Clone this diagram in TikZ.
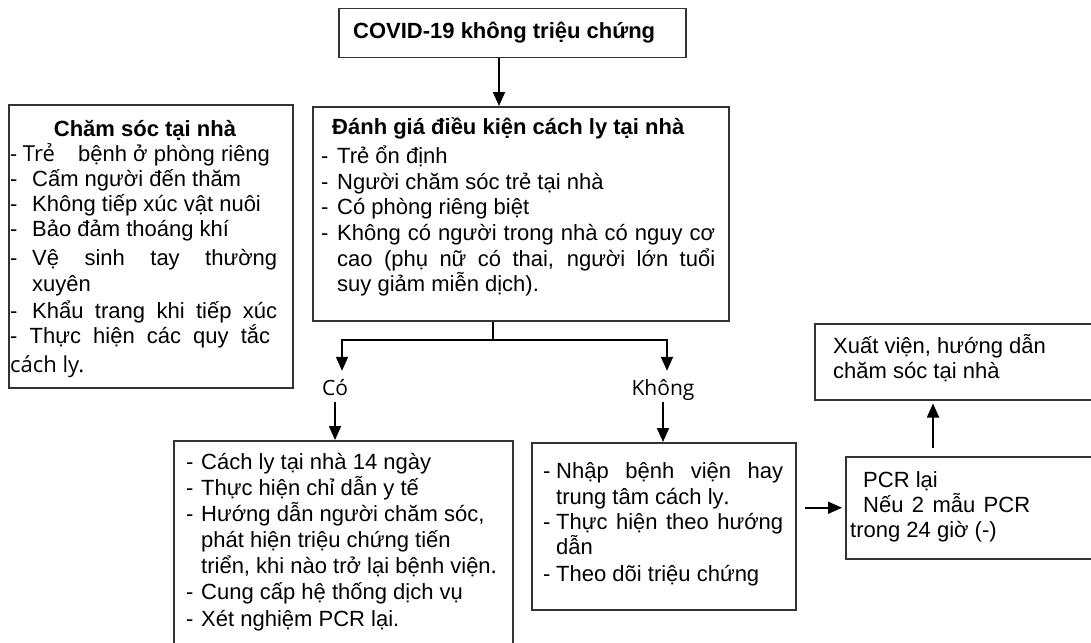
\documentclass[tikz,border=0pt]{standalone}
\usepackage{fontspec}
\setmainfont{Liberation Sans}
\newfontfamily\osans{Open Sans}
\usetikzlibrary{arrows.meta}
\newcommand\bodyfont{\fontsize{22}{26}\selectfont}
\newcommand\dsh[1]{\makebox[#1][l]{-}}
\newcommand\js[2]{\makebox[#1][s]{#2}}
\begin{document}
\begin{tikzpicture}[x=1pt,y=-1pt,
  box/.style={draw=black!80, line width=1.5pt, inner sep=0pt, anchor=north west},
  tx/.style={anchor=base west, inner sep=0pt, font=\bodyfont},
  txb/.style={anchor=base west, inner sep=0pt, font=\bodyfont\bfseries},
  lbl/.style={anchor=base, inner xsep=2pt, inner ysep=0pt, text height=24pt, text depth=7pt, font=\osans\fontsize{21}{25}\selectfont},
  ln/.style={line width=1.8pt, black},
  arr/.style={line width=1.8pt, black, -{Triangle[length=14pt,width=12pt]}}]
\useasboundingbox (0,0) rectangle (1091,642);
\clip (0,0) rectangle (1091,642);
\fill[white] (0,0) rectangle (1091,642);

% boxes
\node[box, minimum width=347pt, minimum height=49pt] (b0) at (338,8) {};
\node[box, minimum width=284pt, minimum height=283pt] (b1) at (8,104) {};
\node[box, minimum width=416pt, minimum height=214pt] (b2) at (312,106) {};
\node[box, minimum width=339pt, minimum height=230pt] (b3) at (173,440) {};
\node[box, minimum width=264pt, minimum height=167pt] (b4) at (531,442) {};
\node[box, minimum width=270pt, minimum height=102pt] (b5) at (845,456) {};
\node[box, minimum width=300pt, minimum height=76pt] (b6) at (814,323) {};

% top title
\node[txb] (t0) at (353,38) {COVID-19 không triệu chứng};

% left box
\node[anchor=base, inner sep=0pt, font=\bodyfont\bfseries] (l0) at (145,136) {Chăm sóc tại nhà};
\node[tx, font=\osans\fontsize{22}{26}\selectfont] (l1a) at (10,161) {- Trẻ};
\node[tx] (l1b) at (78,161) {bệnh ở phòng riêng};
\node[tx] (l2) at (10,186) {\dsh{22pt}Cấm người đến thăm};
\node[tx] (l3) at (10,211) {\dsh{22pt}Không tiếp xúc vật nuôi};
\node[tx] (l4) at (10,236) {\dsh{22pt}Bảo đảm thoáng khí};
\node[tx] (l5) at (10,265) {\dsh{22pt}\js{245pt}{Vệ sinh tay thường}};
\node[tx] (l6) at (32,291) {xuyên};
\node[tx] (l7) at (10,318) {\dsh{22pt}\js{245pt}{Khẩu trang khi tiếp xúc}};
\node[tx] (l8) at (10,343) {\js{260pt}{- Thực hiện các quy tắc}};
\node[tx, font=\osans\fontsize{22}{26}\selectfont] (l9) at (10,372) {cách ly.};

% assessment box
\node[txb] (d0) at (332,134) {Đánh giá điều kiện cách ly tại nhà};
\node[tx] (d1) at (321,163) {\dsh{16pt}Trẻ ổn định};
\node[tx] (d2) at (321,189) {\dsh{16pt}Người chăm sóc trẻ tại nhà};
\node[tx] (d3) at (321,214) {\dsh{16pt}Có phòng riêng biệt};
\node[tx] (d4) at (321,240) {\dsh{16pt}\js{378pt}{Không có người trong nhà có nguy cơ}};
\node[tx] (d5) at (337,266) {\js{378pt}{cao (phụ nữ có thai, người lớn tuổi}};
\node[tx] (d6) at (337,291) {suy giảm miễn dịch).};

% labels
\node[lbl] (lco) at (335,395) {Có};
\node[lbl] (lkh) at (663,395) {Không};

% yes box
\node[tx] (c1) at (186,469) {\dsh{15pt}Cách ly tại nhà 14 ngày};
\node[tx] (c2) at (186,495) {\dsh{15pt}Thực hiện chỉ dẫn y tế};
\node[tx] (c3) at (186,521) {\dsh{15pt}Hướng dẫn người chăm sóc,};
\node[tx] (c4) at (201,547) {phát hiện triệu chứng tiến};
\node[tx] (c5) at (201,573) {triển, khi nào trở lại bệnh viện{\osans .}};
\node[tx] (c6) at (186,599) {\dsh{15pt}Cung cấp hệ thống dịch vụ};
\node[tx] (c7) at (186,626) {\dsh{15pt}Xét nghiệm PCR lại.};

% no box
\node[tx] (k1) at (543,478) {\dsh{13pt}\js{227pt}{Nhập bệnh viện hay}};
\node[tx] (k2) at (556,504) {trung tâm cách ly{\osans .}};
\node[tx] (k3) at (543,529) {\dsh{13pt}\js{227pt}{Thực hiện theo hướng}};
\node[tx] (k4) at (556,554) {dẫn};
\node[tx] (k5) at (543,581) {\dsh{13pt}Theo dõi triệu chứng};

% PCR box
\node[tx] (p1) at (863,487) {PCR lại};
\node[tx] (p2) at (863,512) {\js{167pt}{Nếu 2 mẫu PCR}};
\node[tx] (p3) at (850,537) {trong 24 giờ (-)};

% discharge box
\node[tx] (x1) at (833,353) {Xuất viện, hướng dẫn};
\node[tx] (x2) at (833,378) {chăm sóc tại nhà};

% connectors
\coordinate (a0) at (499,0);
\draw[arr] (b0.south -| a0) -- (b2.north -| a0);
\coordinate (sp) at (493,340);
\draw[ln] (b2.south -| sp) -- (sp);
\coordinate (ca) at (342,0);
\coordinate (ka) at (667,0);
\draw[arr] (sp) -| (lco.north -| ca);
\draw[arr] (sp) -| (lkh.north -| ka);
\draw[arr] (lco.south) -- (b3.north -| lco.south);
\draw[arr] (lkh.south) -- (b4.north -| lkh.south);
\draw[arr, shorten <=8pt, shorten >=3pt] (b4.east |- b5.west) -- (b5.west);
\coordinate (ua) at (933,0);
\draw[arr, shorten <=8pt, shorten >=3pt] (b5.north -| ua) -- (b6.south -| ua);
\end{tikzpicture}
\end{document}
